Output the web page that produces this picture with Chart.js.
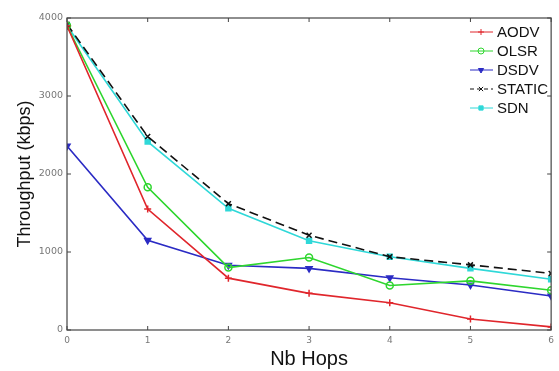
<!DOCTYPE html>
<html>
<head>
<meta charset="utf-8">
<script src="https://cdn.jsdelivr.net/npm/chart.js@4"></script>
<style>
  html, body { margin: 0; padding: 0; background: #fff; }
  #wrap { width: 559px; height: 371px; position: relative; }
</style>
</head>
<body>
<div id="wrap"><canvas id="chart"></canvas></div>
<script>
// valeurs
const hops = [0, 1, 2, 3, 4, 5, 6];
const aodv = [3900, 1550, 665, 470, 350, 140, 40];
const olsr = [3900, 1830, 800, 930, 570, 630, 510];
const dsdv = [2360, 1150, 830, 790, 670, 577, 436];
const staticRoute = [3920, 2480, 1620, 1215, 940, 835, 725];
const sdn = [3900, 2415, 1560, 1145, 940, 790, 650];
const yTicks = [0, 1000, 2000, 3000, 4000];

const series = [
  { label: 'AODV', data: aodv, color: '#e0262c', style: 'cross', dash: [] },
  { label: 'OLSR', data: olsr, color: '#2ed62e', style: 'circle', dash: [] },
  { label: 'DSDV', data: dsdv, color: '#2b2bc4', style: 'triangle', dash: [], rot: 180 },
  { label: 'STATIC', data: staticRoute, color: '#111111', style: 'crossRot', dash: [9, 5] },
  { label: 'SDN', data: sdn, color: '#2fd8d8', style: 'rect', dash: [] }
];

// légende dans le coin + petits traits de graduation vers l'intérieur
const boxPlugin = {
  id: 'boxPlugin',
  afterDraw(chart) {
    const ctx = chart.ctx;
    const a = chart.chartArea;
    const xs = chart.scales.x, ys = chart.scales.y;
    ctx.save();
    ctx.strokeStyle = '#444';
    ctx.lineWidth = 1.2;
    ctx.strokeRect(a.left, a.top, a.right - a.left, a.bottom - a.top);
    ctx.lineWidth = 1;
    hops.forEach(h => {
      const px = xs.getPixelForValue(h);
      ctx.beginPath();
      ctx.moveTo(px, a.bottom); ctx.lineTo(px, a.bottom - 4);
      ctx.moveTo(px, a.top); ctx.lineTo(px, a.top + 4);
      ctx.stroke();
    });
    yTicks.forEach(v => {
      const py = ys.getPixelForValue(v);
      ctx.beginPath();
      ctx.moveTo(a.left, py); ctx.lineTo(a.left + 4, py);
      ctx.moveTo(a.right, py); ctx.lineTo(a.right - 4, py);
      ctx.stroke();
    });

    // légende
    const lx = 470, ly = 32, step = 19;
    ctx.font = '15px "Liberation Sans", Arial, sans-serif';
    ctx.textBaseline = 'middle';
    series.forEach((s, i) => {
      const y = ly + i * step;
      ctx.strokeStyle = s.color;
      ctx.lineWidth = 1;
      ctx.setLineDash(s.dash.length ? [4, 3] : []);
      ctx.beginPath();
      ctx.moveTo(lx, y); ctx.lineTo(lx + 23, y);
      ctx.stroke();
      ctx.setLineDash([]);
      ctx.fillStyle = s.style === 'circle' ? 'rgba(0,0,0,0)' : s.color;
      Chart.helpers.drawPoint(ctx, {
        pointStyle: s.style, radius: 3, rotation: s.rot || 0, borderWidth: 1
      }, lx + 11, y);
      ctx.fillStyle = '#111';
      ctx.fillText(s.label, lx + 27, y + 1);
    });
    ctx.restore();
  }
};

new Chart(document.getElementById('chart'), {
  type: 'line',
  data: {
    datasets: series.map(s => ({
      label: s.label,
      data: s.data.map((v, i) => ({ x: hops[i], y: v })),
      borderColor: s.color,
      backgroundColor: s.color,
      borderWidth: 1.6,
      borderDash: s.dash,
      pointStyle: s.style,
      pointRotation: s.rot || 0,
      pointRadius: 3.5,
      pointBorderWidth: 1.5,
      pointBackgroundColor: s.style === 'circle' ? 'rgba(0,0,0,0)' : s.color,
      tension: 0,
      fill: false
    }))
  },
  options: {
    responsive: true,
    maintainAspectRatio: false,
    animation: false,
    layout: { padding: { top: 18, right: 2, left: 0, bottom: 0 } },
    plugins: {
      legend: { display: false },
      tooltip: { enabled: false }
    },
    scales: {
      x: {
        type: 'linear',
        min: 0,
        max: 6,
        afterFit: s => { s.height = 41; },
        grid: { display: false, drawTicks: false },
        border: { display: false },
        ticks: {
          stepSize: 1,
          color: '#777',
          padding: 5,
          font: { size: 9, family: 'DejaVu Sans' }
        },
        title: {
          display: true,
          text: 'Nb Hops',
          color: '#111',
          padding: { top: 0, bottom: 0 },
          font: { size: 20, family: '"Liberation Sans", Arial, sans-serif' }
        }
      },
      y: {
        min: 0,
        max: 4000,
        afterFit: s => { s.width = 67; },
        afterBuildTicks: s => { s.ticks = yTicks.map(v => ({ value: v })); },
        grid: { display: false, drawTicks: false },
        border: { display: false },
        ticks: {
          color: '#777',
          padding: 4,
          callback: v => String(v),
          font: { size: 9.5, family: 'DejaVu Sans' }
        },
        title: {
          display: true,
          text: 'Throughput (kbps)',
          color: '#111',
          padding: { top: 14, bottom: 4 },
          font: { size: 18, family: '"Liberation Sans", Arial, sans-serif' }
        }
      }
    }
  },
  plugins: [boxPlugin]
});
</script>
</body>
</html>
